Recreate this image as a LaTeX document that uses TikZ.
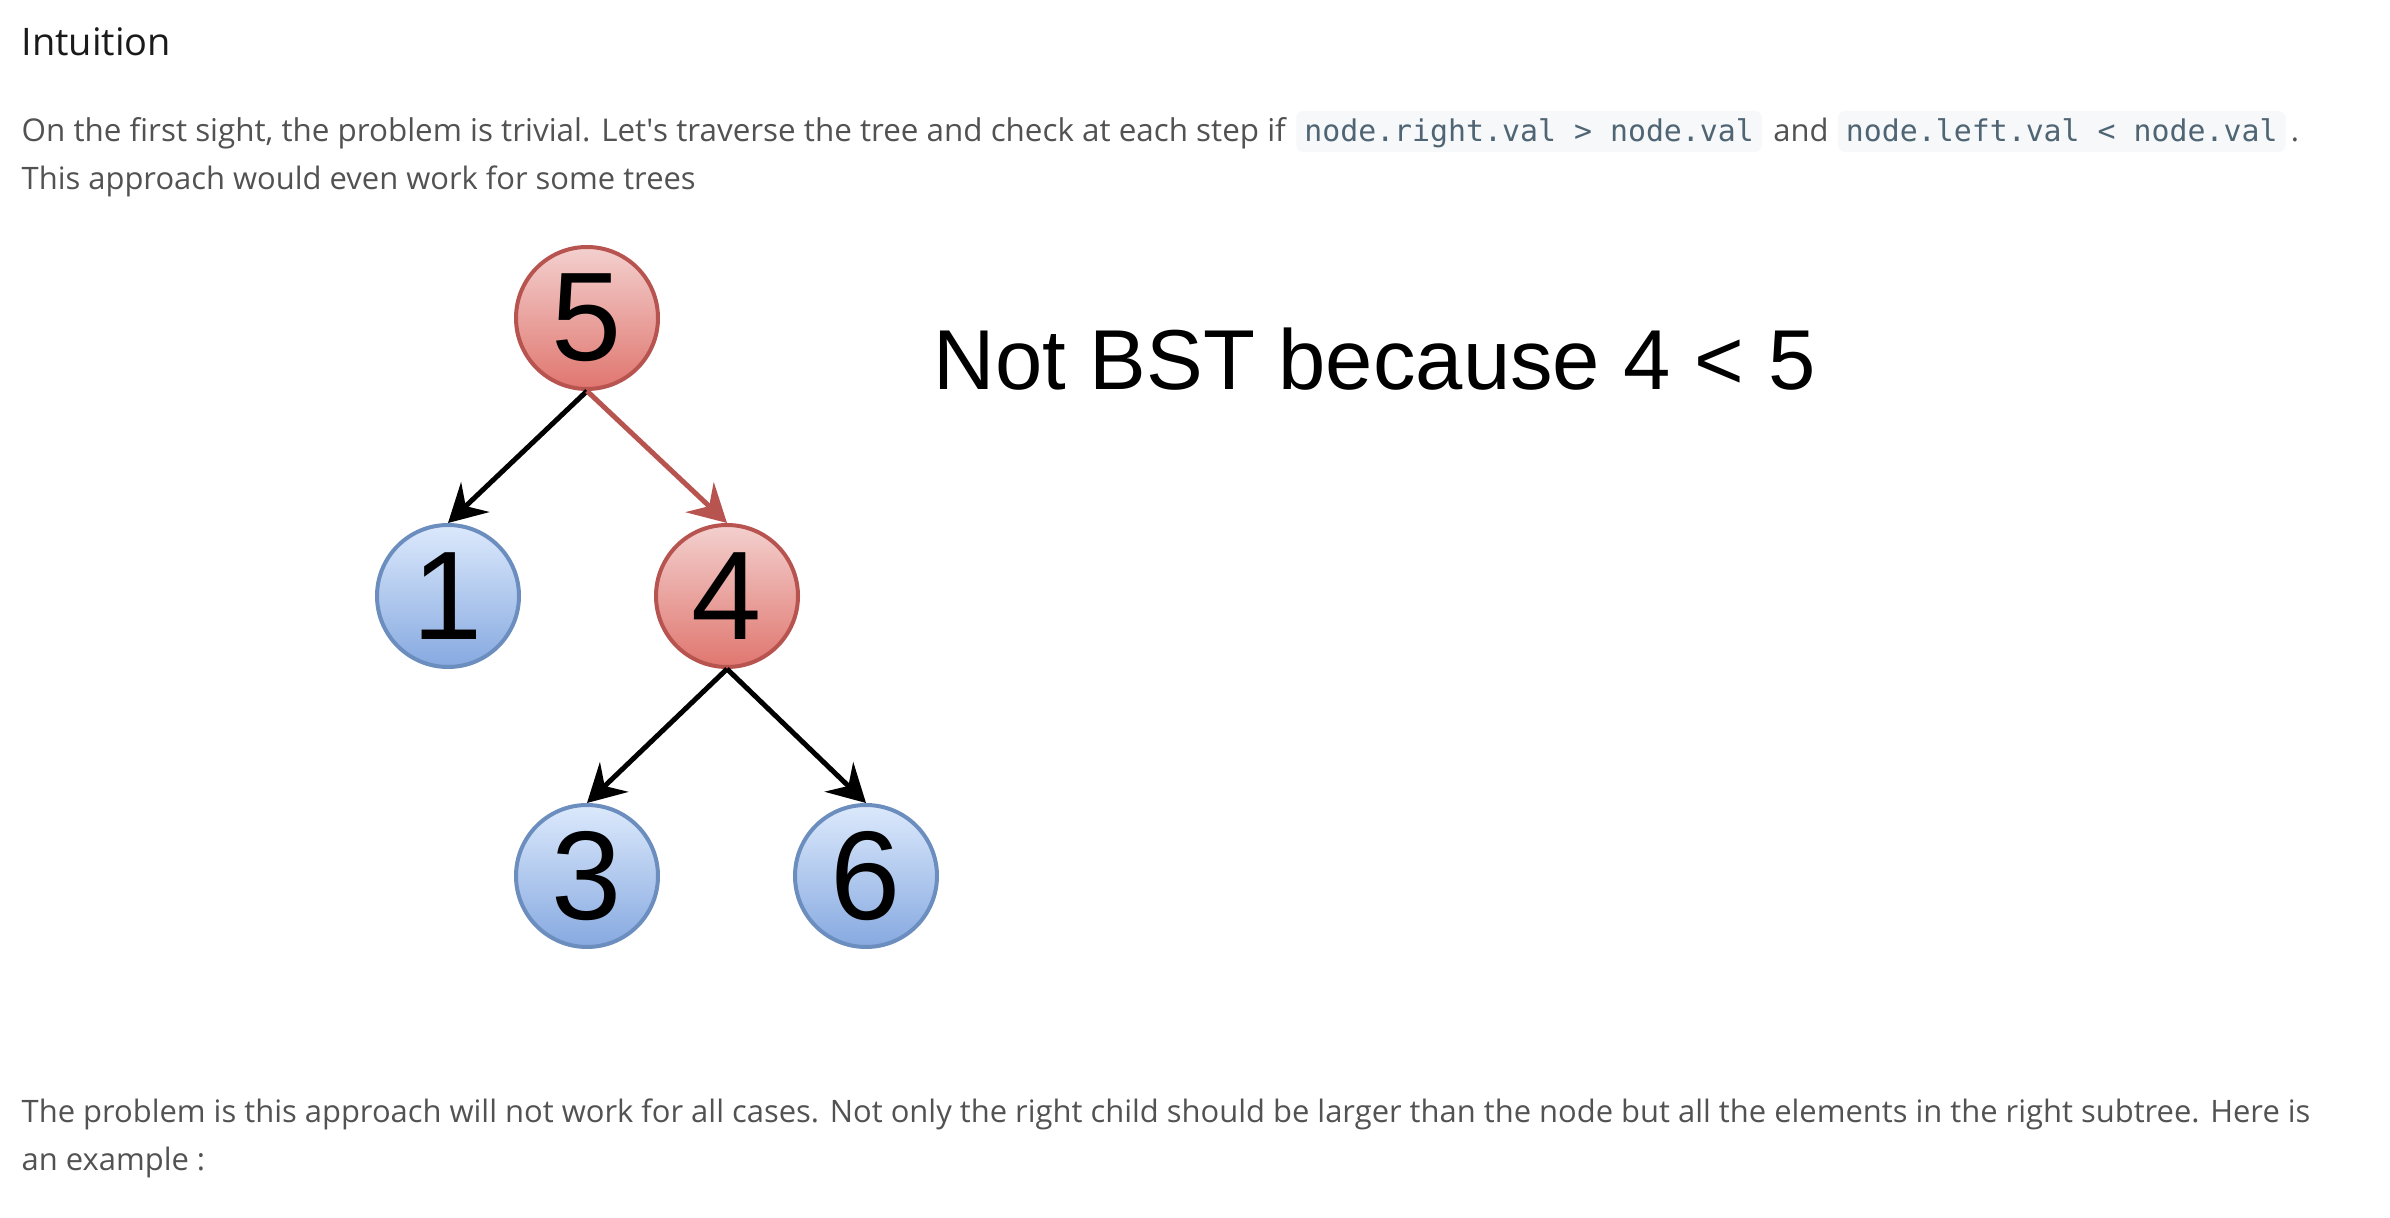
\documentclass[tikz,border=0pt]{standalone}
\usepackage{fontspec}
\setmainfont{Open Sans}
\setmonofont{DejaVu Sans Mono}
\newfontfamily\digitfont{Liberation Sans}
\usepackage{xcolor}
\usetikzlibrary{arrows.meta, positioning}

\definecolor{redline}{HTML}{B85450}
\definecolor{redtop}{HTML}{F3D0CE}
\definecolor{redbot}{HTML}{E0766F}
\definecolor{blueline}{HTML}{6C8EBF}
\definecolor{bluetop}{HTML}{DCE9FC}
\definecolor{bluebot}{HTML}{86A9E0}
\definecolor{headtext}{HTML}{1A1A1A}
\definecolor{bodytext}{HTML}{525252}
\definecolor{codetext}{HTML}{4F6574}
\definecolor{codebg}{HTML}{F6F8FA}

\begin{document}
\begin{tikzpicture}[
      x=0.1mm, y=-0.1mm,
      head/.style={inner sep=0pt, text=headtext, font=\fontsize{10.8}{13}\selectfont},
      txt/.style={inner sep=0pt, text=bodytext, font=\fontsize{8.8}{11}\selectfont},
      code/.style={inner xsep=0.8mm, inner ysep=0pt, text height=3.1mm, text depth=1.0mm,
                   fill=codebg, rounded corners=2pt, text=codetext,
                   font=\ttfamily\fontsize{8.5}{10}\selectfont},
      note/.style={inner sep=0pt, text=black, font=\digitfont\fontsize{24.2}{28}\selectfont},
      tnode/.style={circle, minimum size=14.2mm, inner sep=0pt, line width=0.4mm,
                    font=\digitfont\fontsize{35.9}{40}\selectfont},
      rednode/.style={tnode, draw=redline, top color=redtop, bottom color=redbot},
      bluenode/.style={tnode, draw=blueline, top color=bluetop, bottom color=bluebot},
      arr/.style={-{Stealth[length=3.75mm, width=4.1mm, inset=1.3mm]}, line width=0.5mm},
  ]
  \useasboundingbox (0,0) rectangle (2390,1218);

  %% Heading and first paragraph
  \node[head, anchor=base west] (title) at (21,56) {Intuition};
  \node[txt, anchor=base west, font=\fontsize{8.93}{11}\selectfont] (p1a) at (21,142)
       {On the first sight, the problem is trivial. Let\textquotesingle s traverse the tree and check at each step if};
  \node[code, base right=0.9mm of p1a] (c1) {node.right.val > node.val};
  \node[txt, base right=1.0mm of c1] (p1b) {and};
  \node[code, base right=0.8mm of p1b] (c2) {node.left.val < node.val};
  \node[txt, base right=0.4mm of c2] (p1c) {.};
  \node[txt, anchor=base west] (p2) at (21,190) {This approach would even work for some trees};

  %% Tree
  \node[rednode]  (n5) at (587,318) {5};
  \node[bluenode] (n1) at (448,596) {1};
  \node[rednode]  (n4) at (727,596) {4};
  \node[bluenode] (n3) at (587,876) {3};
  \node[bluenode] (n6) at (866,876) {6};

  \draw[arr]          (n5.south) -- (n1.north);
  \draw[arr,redline]  (n5.south) -- (n4.north);
  \draw[arr]          (n4.south) -- (n3.north);
  \draw[arr]          (n4.south) -- (n6.north);

  %% Note
  \node[note, anchor=base west] (why) at (933,390) {Not BST because 4 < 5};

  %% Second paragraph
  \node[txt, anchor=base west] (p3) at (21,1123)
       {The problem is this approach will not work for all cases. Not only the right child should be larger than the node but all the elements in the right subtree. Here is};
  \node[txt, anchor=base west] (p4) at (21,1171) {an example :};

\end{tikzpicture}
\end{document}
